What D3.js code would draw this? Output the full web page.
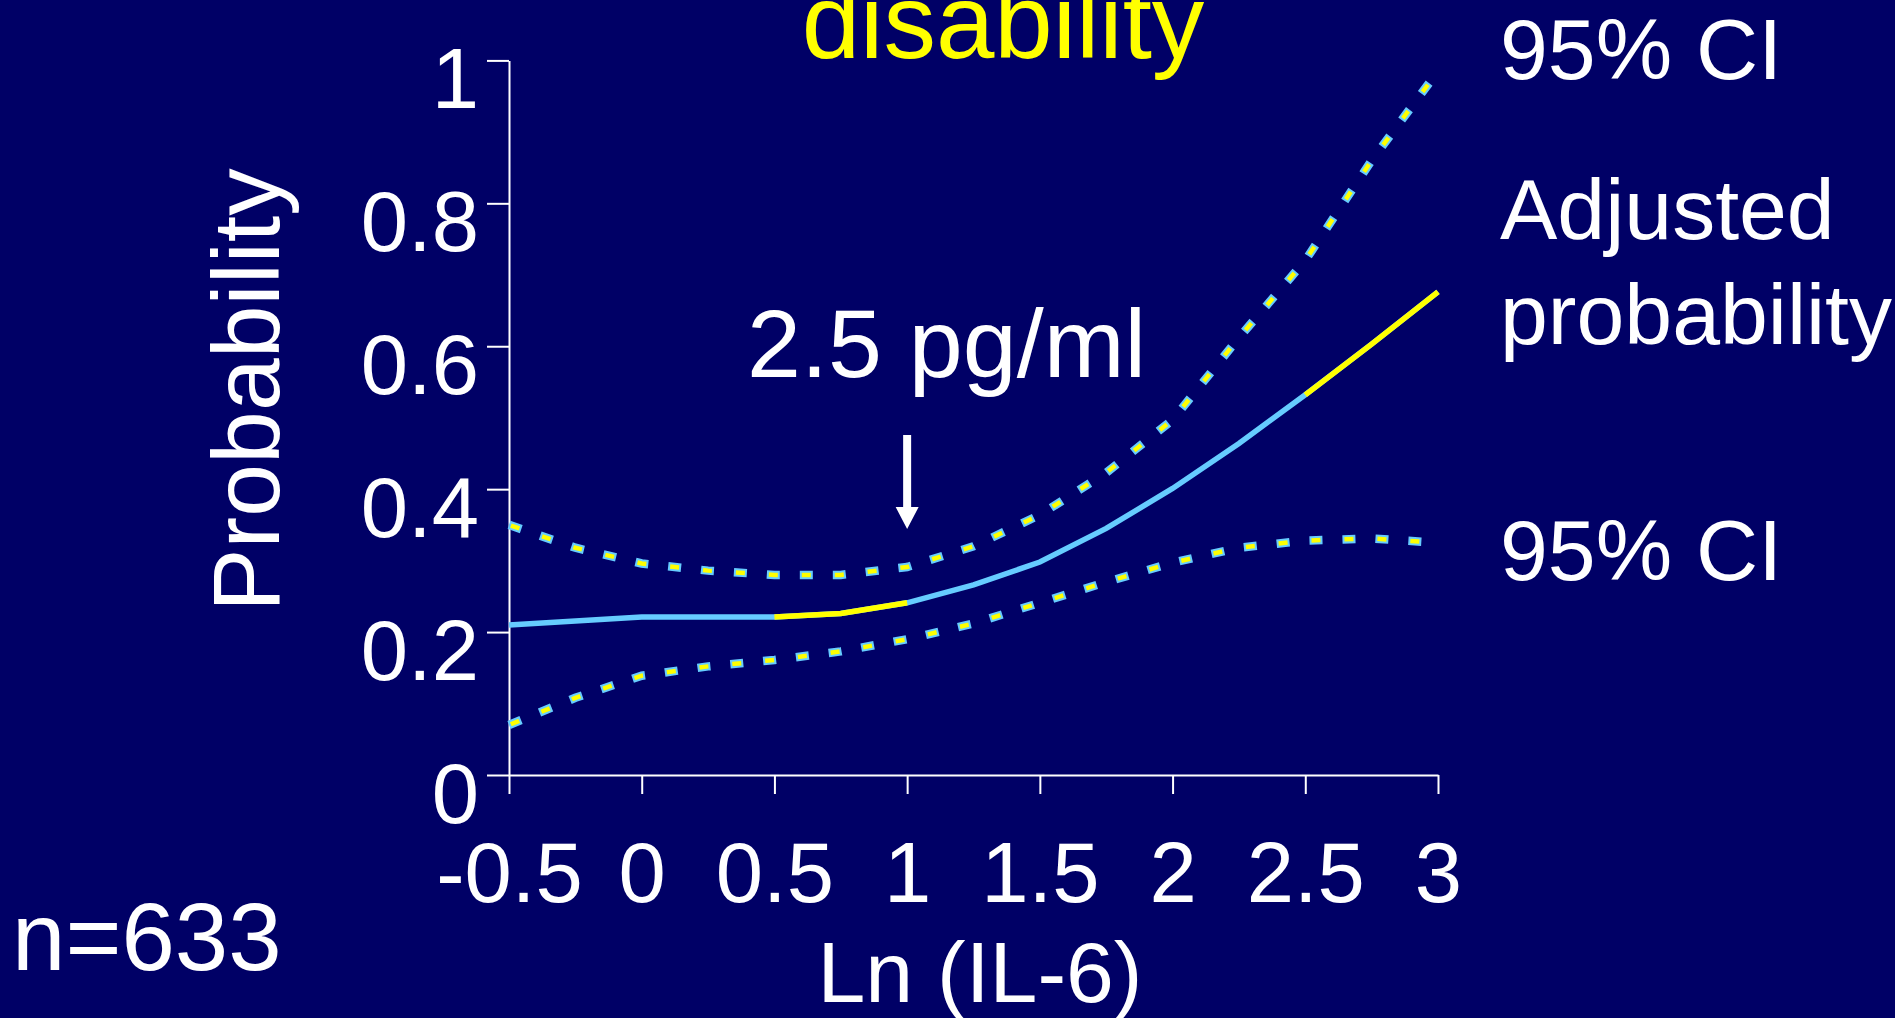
<!DOCTYPE html>
<meta charset="utf-8">
<style>
body { margin: 0; background: #000066; }
svg { display: block; font-family: "Liberation Sans", Arial, sans-serif; }
.axis path, .axis line { stroke: #fff; stroke-width: 2px; fill: none; }
.axis text { fill: #fff; font-size: 85px; }
.lbl { fill: #fff; }
</style>
<svg width="1895" height="1018"></svg>
<script src="https://d3js.org/d3.v7.min.js"></script>
<script>
// tick values
var xTicks = [-0.5, 0, 0.5, 1, 1.5, 2, 2.5, 3];
var yTicks = [0, 0.2, 0.4, 0.6, 0.8, 1];

// adjusted probability
var probX = [-0.5, 0, 0.5, 0.75, 1, 1.25, 1.5, 1.75, 2, 2.25, 2.5, 2.75, 3];
var probY = [0.21, 0.221, 0.221, 0.226, 0.241, 0.266, 0.298, 0.345, 0.401, 0.464, 0.532, 0.603, 0.676];
// parts of the curve drawn in yellow
var highlight = [[0.5, 1], [2.5, 3]];

// 95% CI bounds
var ciX = [-0.5, -0.25, 0, 0.25, 0.5, 0.75, 1, 1.25, 1.5, 1.75, 2, 2.25, 2.5, 2.75, 3];
var upperY = [0.35, 0.318, 0.296, 0.286, 0.28, 0.28, 0.291, 0.32, 0.364, 0.423, 0.497, 0.612, 0.72, 0.86, 0.985];
var lowerY = [0.07, 0.108, 0.139, 0.152, 0.161, 0.173, 0.19, 0.212, 0.241, 0.27, 0.297, 0.318, 0.328, 0.331, 0.325];

var svg = d3.select("svg");
svg.append("rect").attr("width", 1895).attr("height", 1018).attr("fill", "#000066");

var x = d3.scaleLinear().domain([-0.5, 3]).range([509, 1438]);
var y = d3.scaleLinear().domain([0, 1]).range([775, 60.4]);

var line = d3.line()
    .x(function(d) { return x(d[0]); })
    .y(function(d) { return y(d[1]); });

// axes
var gx = svg.append("g")
    .attr("class", "axis")
    .attr("transform", "translate(0," + y(0) + ")")
    .call(d3.axisBottom(x).tickValues(xTicks).tickSize(19).tickSizeOuter(0)
        .tickFormat(function(d) { return String(d); }));
gx.selectAll("text").attr("y", 127).attr("dy", null);

var gy = svg.append("g")
    .attr("class", "axis")
    .attr("transform", "translate(" + x(-0.5) + ",0)")
    .call(d3.axisLeft(y).tickValues(yTicks).tickSize(22).tickSizeOuter(0)
        .tickFormat(function(d) { return String(d); }));
gy.selectAll("text").attr("x", -30).attr("dy", null).attr("y", 47);

// CI dotted lines
[upperY, lowerY].forEach(function(vals) {
  var pts = ciX.map(function(v, i) { return [v, vals[i]]; });
  svg.append("path").datum(pts)
      .attr("d", line)
      .attr("fill", "none")
      .attr("stroke", "#66ccff")
      .attr("stroke-width", 8.5)
      .attr("stroke-dasharray", "13 20");
  svg.append("path").datum(pts)
      .attr("d", line)
      .attr("fill", "none")
      .attr("stroke", "#ffff00")
      .attr("stroke-width", 4.5)
      .attr("stroke-dasharray", "9 24")
      .attr("stroke-dashoffset", -2);
});

// adjusted probability curve
var probPts = probX.map(function(v, i) { return [v, probY[i]]; });
svg.append("path").datum(probPts)
    .attr("d", line)
    .attr("fill", "none")
    .attr("stroke", "#66ccff")
    .attr("stroke-width", 5.5);

highlight.forEach(function(r) {
  var seg = probPts.filter(function(p) { return p[0] >= r[0] && p[0] <= r[1]; });
  svg.append("path").datum(seg)
      .attr("d", line)
      .attr("fill", "none")
      .attr("stroke", "#ffff00")
      .attr("stroke-width", 5.5);
});

// arrow pointing at 2.5 pg/ml (ln = 1)
var ax = x(1);
svg.append("path")
    .attr("d", "M" + (ax - 4) + ",435 L" + (ax + 4) + ",435 L" + (ax + 4) + ",507 L" + (ax + 11.5) + ",507 L" + ax + ",529 L" + (ax - 11.5) + ",507 L" + (ax - 4) + ",507 Z")
    .attr("fill", "#fff");

svg.append("text").attr("class", "lbl")
    .attr("x", 747).attr("y", 377)
    .attr("font-size", 97)
    .text("2.5 pg/ml");

// titles and labels
svg.append("text")
    .attr("x", 1003).attr("y", 58)
    .attr("text-anchor", "middle")
    .attr("font-size", 105)
    .attr("fill", "#ffff00")
    .text("disability");

svg.append("text").attr("class", "lbl")
    .attr("transform", "translate(279,390) rotate(-90)")
    .attr("text-anchor", "middle")
    .attr("font-size", 95)
    .text("Probability");

svg.append("text").attr("class", "lbl")
    .attr("x", 980).attr("y", 1002)
    .attr("text-anchor", "middle")
    .attr("font-size", 86)
    .text("Ln (IL-6)");

svg.append("text").attr("class", "lbl")
    .attr("x", 12).attr("y", 970)
    .attr("font-size", 96)
    .text("n=633");

svg.append("text").attr("class", "lbl")
    .attr("x", 1500).attr("y", 79)
    .attr("font-size", 86)
    .text("95% CI");

svg.append("text").attr("class", "lbl")
    .attr("x", 1500).attr("y", 239)
    .attr("font-size", 86)
    .text("Adjusted");

svg.append("text").attr("class", "lbl")
    .attr("x", 1500).attr("y", 344)
    .attr("font-size", 86)
    .text("probability");

svg.append("text").attr("class", "lbl")
    .attr("x", 1500).attr("y", 580)
    .attr("font-size", 86)
    .text("95% CI");
</script>
